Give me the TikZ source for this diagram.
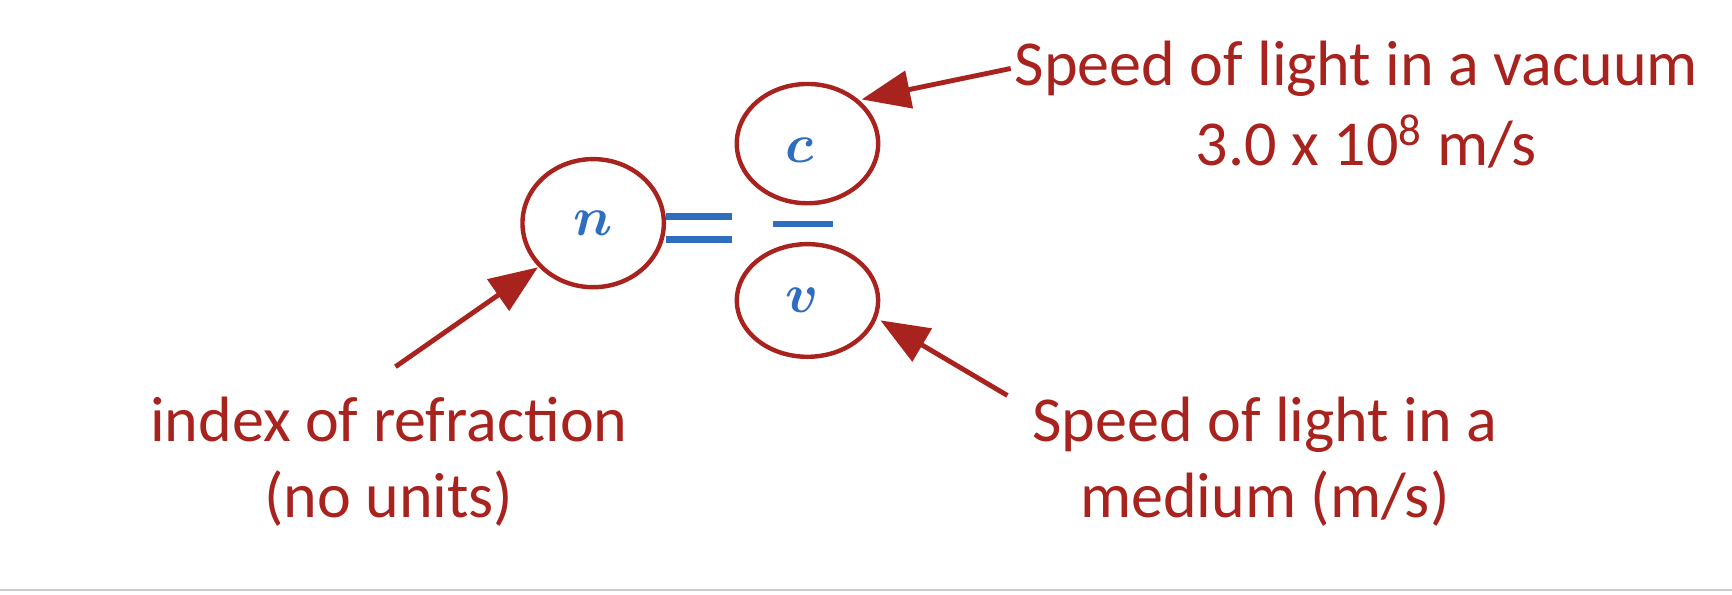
\documentclass[tikz,border=0pt]{standalone}
\usepackage{fontspec}
\setmainfont{Carlito}
\usetikzlibrary{arrows.meta}
\definecolor{dred}{HTML}{A8221E}
\definecolor{mblue}{HTML}{2F6DBE}
\begin{document}
\begin{tikzpicture}[x=0.5pt,y=-0.5pt,
  lbl/.style={text=dred,font=\fontsize{29}{34}\selectfont,align=center},
  sym/.style={text=mblue,font=\fontsize{50}{50}\selectfont\boldmath},
  arr/.style={draw=dred,line width=2.2pt,-{Triangle[length=22pt,width=17pt]}}]
\useasboundingbox (0,0) rectangle (1568,538);
\draw[gray!40,line width=0.6pt] (0,534) -- (1568,534);
\draw[dred,line width=2pt] (537,202) ellipse [x radius=64,y radius=58];
\draw[dred,line width=2pt] (731,130) ellipse [x radius=64,y radius=54];
\draw[dred,line width=2pt] (731,272) ellipse [x radius=64,y radius=51];
\coordinate (nring) at (487,242);
\coordinate (cring) at (780,90);
\coordinate (vring) at (797,290);
\node[sym] (n) at (537,202) {$n$};
\node[sym] (c) at (724,136) {$c$};
\node[sym] (v) at (726,272) {$v$};
\draw[mblue,line width=3pt] (603,196) -- (663,196) (603,217) -- (663,217);
\coordinate (eq) at (633,207);
\draw[mblue,line width=2.5pt] (700,203) -- (754,203);
\node[lbl] (t1) at (1228,62) {Speed of light in a vacuum};
\node[lbl] (t2) at (1237,128) {3.0 x 10\textsuperscript{8} m/s};
\node[lbl] (t3) at (352,418) {index of refraction\\(no units)};
\node[lbl] (t4) at (1145,418) {Speed of light in a\\medium (m/s)};
\coordinate (a1) at (915,62);
\coordinate (a2) at (912,358);
\coordinate (a3) at (358,332);
\draw[arr] (a1) -- (cring);
\draw[arr] (a2) -- (vring);
\draw[arr] (a3) -- (nring);
\end{tikzpicture}
\end{document}
